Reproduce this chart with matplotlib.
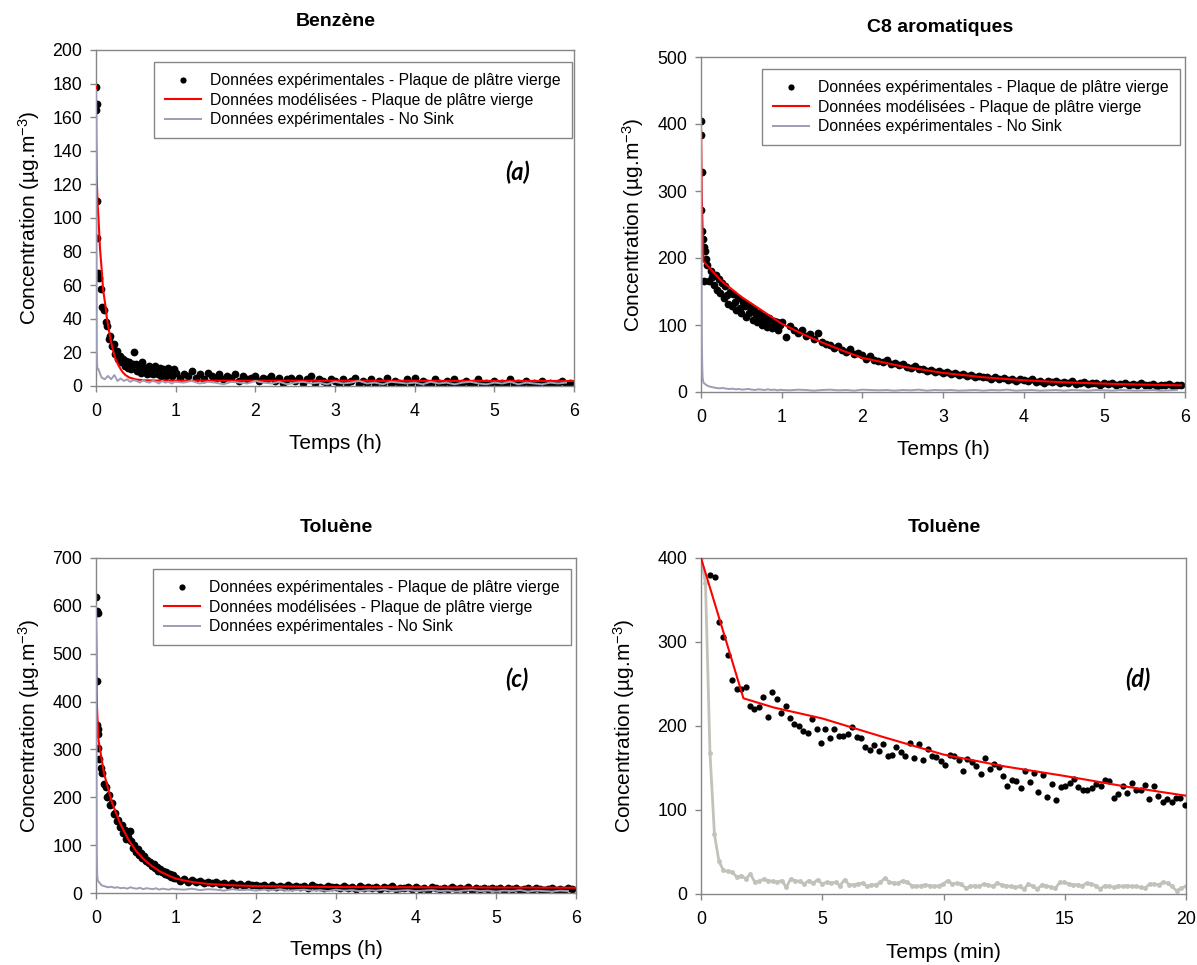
import matplotlib.pyplot as plt
import numpy as np

plt.rcParams['font.family'] = ['Liberation Sans', 'DejaVu Sans']
plt.rcParams['mathtext.fontset'] = 'custom'
plt.rcParams['mathtext.rm'] = 'Liberation Sans'
plt.rcParams['mathtext.it'] = 'Liberation Sans:italic'
plt.rcParams['mathtext.bf'] = 'Liberation Sans:bold'

# ------------------------------------------------------------------
# Sampling used for the long runs (hours)
# first hour on a 0.02 h step, then 0.05 h; No Sink runs are thinned
# ------------------------------------------------------------------
FINE_DT = 0.02
COARSE_DT = 0.05
NS_FINE_START, NS_FINE_DT = 0.03, 0.04
NS_COARSE_DT = 0.1

# ------------------------------------------------------------------
# (a) Benzène
# ------------------------------------------------------------------
benz_exp_t0 = [0.0, 0.004, 0.008, 0.01, 0.017, 0.03]
benz_exp_v0 = [178, 164, 168, 110, 88, 67]
benz_exp_fine = [64, 58, 47, 45, 38, 36, 28, 30, 24, 25,
                 19, 21, 16, 18, 14, 16, 12, 15, 11, 14,
                 10, 13, 20, 13, 9, 12, 8, 14, 9, 11,
                 7, 12, 8, 10, 7, 12, 10, 7, 11, 6,
                 10, 8, 6, 11, 7, 9, 6, 10]
benz_exp_coarse = [8, 5, 7, 6, 9, 5, 7, 4, 8, 6,
                   5, 7, 4, 6, 5, 7, 3, 6, 4, 5,
                   6, 3, 5, 4, 6, 3, 5, 2, 4, 5,
                   3, 5, 2, 4, 6, 2, 4, 3, 1, 4,
                   3, 1, 4, 2, 3, 5, 1, 3, 2, 4,
                   1, 3, 2, 5, 1, 3, 2, 1, 4, 2,
                   5, 1, 3, 2, 1, 4, 2, 1, 3, 1,
                   4, 1, 2, 3, 1, 2, 4, 1, 2, 1,
                   3, 1, 2, 1, 4, 1, 2, 1, 3, 1,
                   2, 1, 3, 1, 2, 1, 2, 3, 1, 2]
benz_mod_t = [0.0, 0.003, 0.008, 0.02, 0.03, 0.05, 0.07, 0.09, 0.115, 0.135,
              0.157, 0.19, 0.22, 0.25, 0.285, 0.33, 0.37, 0.42, 0.5, 0.6, 0.8, 6.0]
benz_mod_v = [178, 147, 125, 108, 101, 82, 70, 57, 49, 41,
              34.5, 26, 20, 15.5, 12, 8.5, 6.5, 5, 3.9, 3.4, 3.2, 3.0]
benz_ns_t0 = [0.0, 0.005, 0.01, 0.015, 0.02]
benz_ns_v0 = [176, 120, 22, 12, 10]
benz_ns_fine = [10, 5, 4, 6, 4, 6.5, 3, 4.5, 3, 4, 2.5, 3.5, 3,
                2, 3.5, 2.5, 2, 3, 2.5, 1.5, 3, 2, 2.5, 1.5, 2.5]
benz_ns_coarse = [2.5, 2, 3, 1.5, 2.5, 2, 1, 2.5, 2, 1.5, 3, 2, 1.5, 2.5, 1, 2, 2.5,
                  1.5, 2, 1, 2.5, 1.5, 2, 3, 1.5, 2, 1, 2.5, 2, 1.5, 2, 1, 2.5,
                  1.5, 2, 1, 2, 2.5, 1.5, 1, 2, 1.5, 2.5, 1, 2, 1.5, 1, 2, 1.5, 2]

# ------------------------------------------------------------------
# (b) C8 aromatiques
# ------------------------------------------------------------------
c8_exp_t0 = [0.0, 0.0, 0.008, 0.0, 0.017, 0.025, 0.034, 0.04, 0.05]
c8_exp_v0 = [405, 383, 328, 271, 241, 229, 216, 166, 211]
c8_exp_fine = [199, 190, 165, 181, 171, 160, 175, 152, 168, 148,
               162, 140, 158, 145, 132, 150, 128, 146, 135, 122,
               140, 126, 118, 134, 128, 112, 130, 118, 125, 108,
               122, 115, 104, 118, 110, 100, 114, 106, 97, 110,
               102, 95, 106, 99, 104, 92, 100]
c8_exp_coarse = [104, 82, 98, 93, 88, 92, 84, 86, 79, 88,
                 74, 72, 70, 66, 68, 63, 60, 64, 57, 58,
                 55, 50, 53, 48, 47, 45, 48, 42, 44, 40,
                 42, 38, 36, 39, 34, 35, 32, 33, 30, 31,
                 29, 30, 27, 28, 25, 27, 24, 25, 23, 24,
                 22, 23, 20, 22, 19, 21, 18, 20, 17, 19,
                 18, 16, 19, 15, 17, 14, 16, 15, 17, 13,
                 15, 14, 16, 12, 14, 15, 12, 13, 14, 11,
                 13, 12, 14, 11, 12, 13, 10, 12, 11, 13,
                 11, 10, 12, 9, 11, 10, 12, 9, 10, 11]
c8_mod_t = [0.0, 0.005, 0.01, 0.03, 0.25, 0.5, 0.75, 1.0, 1.25, 1.5,
            1.75, 2.0, 2.5, 3.0, 3.5, 4.0, 4.5, 5.0, 5.5, 5.95]
c8_mod_v = [400, 340, 290, 195, 166, 142, 122, 102, 87, 74,
            62, 51, 38, 28.5, 22, 17.5, 14.5, 12.5, 11, 10]
c8_ns_t0 = [0.0, 0.005, 0.01, 0.015, 0.02]
c8_ns_v0 = [400, 290, 87, 40, 22]
c8_ns_fine = [14, 10, 8, 7, 6, 5.5, 6, 5, 4.5, 5, 4, 4.5, 3.5,
              4, 4.5, 3.5, 3, 4, 3.5, 3, 4, 3, 3.5, 2.5, 3.5]
c8_ns_coarse = [3, 2.5, 3.5, 3, 2, 3, 3.5, 2.5, 3, 2, 3.5, 3, 2.5, 3, 2, 3, 2.5,
                3.5, 2, 3, 2.5, 3, 2, 2.5, 3, 2, 3, 2.5, 3.5, 2, 2.5, 3, 2,
                2.5, 3, 2, 3, 2.5, 2, 3, 2.5, 2, 3, 2.5, 2, 2.5, 3, 2, 2.5, 3]

# ------------------------------------------------------------------
# (c) Toluène, 6 h
# ------------------------------------------------------------------
tol_exp_t0 = [0.0, 0.009, 0.02, 0.013, 0.013, 0.021, 0.03, 0.03]
tol_exp_v0 = [618, 589, 585, 444, 352, 342, 333, 304]
tol_exp_fine = [280, 262, 250, 228, 222, 200, 205, 184, 188, 165,
                168, 150, 152, 138, 142, 125, 131, 112, 118, 130,
                108, 95, 100, 85, 92, 80, 84, 73, 78, 67,
                70, 62, 65, 56, 60, 52, 55, 47, 50, 44,
                47, 40, 43, 37, 40, 34, 37, 32]
tol_exp_coarse = [32, 26, 30, 24, 27, 23, 26, 21, 24, 20,
                  22, 19, 21, 17, 20, 16, 19, 15, 18, 16,
                  17, 14, 16, 13, 17, 12, 15, 13, 16, 12,
                  15, 12, 14, 11, 16, 12, 13, 10, 14, 12,
                  13, 10, 14, 11, 12, 9, 15, 11, 12, 10,
                  13, 9, 12, 10, 14, 9, 11, 10, 12, 8,
                  12, 9, 11, 7, 12, 10, 8, 11, 9, 12,
                  8, 11, 9, 12, 7, 10, 9, 11, 8, 10,
                  9, 11, 7, 10, 8, 11, 6, 9, 10, 7,
                  10, 8, 6, 9, 11, 7, 9, 6, 10, 8]
tol_mod_t = [0.0, 0.004, 0.008, 0.012, 0.03, 0.1, 0.2, 0.3, 0.4, 0.5,
             0.6, 0.7, 0.8, 0.9, 1.0, 1.2, 1.4, 1.6, 1.8, 2.0, 3.0, 4.0, 6.0]
tol_mod_v = [585, 520, 422, 390, 321, 250, 189, 146, 113, 88,
             70, 56, 45, 37, 30, 23, 19, 17, 15.5, 14.5, 12.5, 12, 11]
tol_ns_t0 = [0.0, 0.005, 0.01, 0.015, 0.02]
tol_ns_v0 = [600, 420, 90, 38, 28]
tol_ns_fine = [24, 16, 14, 12, 13, 11, 12, 10, 11, 9, 12, 10, 9,
               11, 8, 10, 9, 8, 10, 7, 9, 8, 7, 9, 8]
tol_ns_coarse = [8, 7, 9, 6, 8, 7, 5, 8, 6, 7, 5, 7, 6, 8, 5, 6, 7, 5, 6, 4,
                 7, 5, 6, 4, 6, 5, 7, 4, 5, 6, 4, 5, 6, 4, 5, 3, 5, 6, 4, 5,
                 3, 5, 4, 6, 3, 5, 4, 3, 5, 4]

# ------------------------------------------------------------------
# (d) Toluène, first 20 min
# ------------------------------------------------------------------
tol20_exp_start, tol20_exp_dt = 0.375, 0.183   # min
tol20_exp_v = [380, 377, 324, 306, 285, 255, 244, 244, 246, 224,
               220, 223, 235, 211, 240, 232, 216, 224, 210, 202,
               200, 194, 192, 208, 196, 180, 196, 186, 196, 188,
               188, 190, 199, 187, 186, 175, 171, 177, 170, 178,
               164, 166, 175, 169, 164, 180, 162, 179, 160, 173,
               164, 163, 158, 154, 165, 164, 159, 146, 161, 157,
               152, 143, 162, 149, 155, 151, 140, 128, 136, 135,
               126, 147, 133, 144, 121, 142, 116, 131, 112, 127,
               128, 132, 137, 127, 124, 124, 126, 131, 129, 136,
               134, 114, 119, 128, 120, 132, 124, 124, 130, 113,
               129, 117, 109, 113, 109, 114, 114, 106]
tol20_mod_t = [0, 1.75, 3, 5, 7.5, 10, 12.5, 15, 17.5, 20]
tol20_mod_v = [400, 233, 222, 209, 187, 166, 152, 140.5, 128, 117]
tol20_ns_dt = 0.185   # min
tol20_ns_v = [400, 370, 168, 71, 39, 28, 27, 26, 20, 22,
              18, 24, 14, 15, 18, 16, 15, 14, 16, 8,
              18, 16, 15, 12, 16, 13, 17, 12, 14, 13,
              14, 10, 17, 11, 11, 12, 13, 9, 11, 11,
              14, 19, 14, 13, 13, 16, 14, 10, 9, 10,
              11, 10, 9, 10, 12, 16, 12, 13, 12, 7,
              9, 10, 9, 12, 11, 9, 13, 11, 10, 9,
              8, 9, 6, 12, 9, 6, 11, 10, 8, 7,
              14, 14, 12, 11, 11, 10, 13, 12, 10, 6,
              10, 9, 8, 10, 9, 10, 9, 9, 8, 7,
              12, 12, 11, 14, 13, 9, 4, 7, 9]

LEG_EXP = 'Données expérimentales - Plaque de plâtre vierge'
LEG_MOD = 'Données modélisées - Plaque de plâtre vierge'
LEG_NS = 'Données expérimentales - No Sink'
YLABEL = 'Concentration (µg.m$^{-3}$)'

RED = '#ff0000'
NOSINK = '#9d9db5'
NOSINK_D = '#c2c2ba'
FRAME = '#868686'

W, H = 1197, 965


def stitch_exp(t0, v0, fine, coarse, fine_start):
    t = np.concatenate([t0, fine_start + FINE_DT * np.arange(len(fine)),
                        1.0 + COARSE_DT * np.arange(len(coarse))])
    return t, np.concatenate([v0, fine, coarse])


def stitch_ns(t0, v0, fine, coarse):
    t = np.concatenate([t0, NS_FINE_START + NS_FINE_DT * np.arange(len(fine)),
                        1.0 + NS_COARSE_DT * np.arange(len(coarse))])
    return t, np.concatenate([v0, fine, coarse])


def add_axes(fig, left, right, top, bottom):
    """Axes placed from pixel edges of the 1197x965 canvas."""
    return fig.add_axes([left / W, 1 - bottom / H, (right - left) / W, (bottom - top) / H])


def style(ax, xmax, xstep, ymax, ystep, xlabel, xlab_y, ylab_x):
    ax.set_xlim(0, xmax)
    ax.set_ylim(0, ymax)
    ax.set_xticks(np.arange(0, xmax + 0.01, xstep))
    ax.set_yticks(np.arange(0, ymax + 0.01, ystep))
    for sp in ax.spines.values():
        sp.set_color(FRAME)
        sp.set_linewidth(1.0)
    ax.tick_params(direction='out', length=4, width=1, color=FRAME, labelsize=12.8)
    ax.tick_params(axis='x', pad=8)
    ax.tick_params(axis='y', pad=6)
    ax.set_xlabel(xlabel, fontsize=15, va='center')
    ax.xaxis.set_label_coords(0.5, xlab_y)
    ax.set_ylabel(YLABEL, fontsize=15, va='center')
    ax.yaxis.set_label_coords(ylab_x, 0.5)


def draw_long(ax, exp, mod, ns):
    ax.plot(*exp, 'o', color='black', ms=5.6, mew=0, label=LEG_EXP, zorder=2)
    ax.plot(*mod, color=RED, lw=1.5, label=LEG_MOD, zorder=3)
    ax.plot(*ns, color=NOSINK, lw=1.4, label=LEG_NS, zorder=4)


def add_legend(ax, fig, right, top):
    h, l = ax.get_legend_handles_labels()
    leg = ax.legend(h, l, loc='upper right', bbox_to_anchor=(right / W, 1 - top / H),
                    bbox_transform=fig.transFigure, borderaxespad=0, fontsize=11.3,
                    numpoints=1, markerscale=0.8, handlelength=2.3, handletextpad=0.55,
                    labelspacing=0.28, borderpad=0.72, frameon=True, fancybox=False,
                    framealpha=1)
    leg.get_frame().set_edgecolor(FRAME)
    leg.get_frame().set_linewidth(1.0)


def tag(ax, text, x, y):
    ax.text(x, y, text, transform=ax.transAxes, fontsize=17, fontweight='bold',
            fontstyle='italic', family=['Lato', 'DejaVu Sans'], ha='center', va='center')


fig = plt.figure(figsize=(W / 100, H / 100), dpi=100)

# (a) Benzène
ax_a = add_axes(fig, 96, 574, 50, 386)
draw_long(ax_a,
          stitch_exp(benz_exp_t0, benz_exp_v0, benz_exp_fine, benz_exp_coarse, 0.04),
          (benz_mod_t, benz_mod_v),
          stitch_ns(benz_ns_t0, benz_ns_v0, benz_ns_fine, benz_ns_coarse))
style(ax_a, 6, 1, 200, 20, 'Temps (h)', -0.17, -0.14)
add_legend(ax_a, fig, 572, 62)
tag(ax_a, '(a)', 0.881, 0.637)
fig.text(336 / W, 1 - 22 / H, 'Benzène', ha='center', va='center', fontsize=14, fontweight='bold')

# (b) C8 aromatiques
ax_b = add_axes(fig, 701, 1185, 57, 392)
draw_long(ax_b,
          stitch_exp(c8_exp_t0, c8_exp_v0, c8_exp_fine, c8_exp_coarse, 0.06),
          (c8_mod_t, c8_mod_v),
          stitch_ns(c8_ns_t0, c8_ns_v0, c8_ns_fine, c8_ns_coarse))
style(ax_b, 6, 1, 500, 100, 'Temps (h)', -0.173, -0.14)
add_legend(ax_b, fig, 1180, 69)
fig.text(940 / W, 1 - 27 / H, 'C8 aromatiques', ha='center', va='center', fontsize=14,
         fontweight='bold')

# (c) Toluène, 6 h
ax_c = add_axes(fig, 96, 576, 558, 893)
draw_long(ax_c,
          stitch_exp(tol_exp_t0, tol_exp_v0, tol_exp_fine, tol_exp_coarse, 0.04),
          (tol_mod_t, tol_mod_v),
          stitch_ns(tol_ns_t0, tol_ns_v0, tol_ns_fine, tol_ns_coarse))
style(ax_c, 6, 1, 700, 100, 'Temps (h)', -0.17, -0.14)
add_legend(ax_c, fig, 571, 569)
tag(ax_c, '(c)', 0.877, 0.639)
fig.text(336 / W, 1 - 528 / H, 'Toluène', ha='center', va='center', fontsize=14, fontweight='bold')

# (d) Toluène, first 20 min
ax_d = add_axes(fig, 701, 1186, 558, 894)
t_ns = tol20_ns_dt * np.arange(len(tol20_ns_v))
t_exp = tol20_exp_start + tol20_exp_dt * np.arange(len(tol20_exp_v))
ax_d.plot(t_ns, tol20_ns_v, '-o', color=NOSINK_D, lw=2, ms=3.5, mew=0, zorder=2)
ax_d.plot(t_exp, tol20_exp_v, 'o', color='black', ms=4.5, mew=0, zorder=3)
ax_d.plot(tol20_mod_t, tol20_mod_v, color=RED, lw=1.5, zorder=4)
style(ax_d, 20, 5, 400, 100, 'Temps (min)', -0.173, -0.159)
tag(ax_d, '(d)', 0.901, 0.64)
fig.text(944 / W, 1 - 527 / H, 'Toluène', ha='center', va='center', fontsize=14, fontweight='bold')

fig.savefig('out.png', dpi=100)
